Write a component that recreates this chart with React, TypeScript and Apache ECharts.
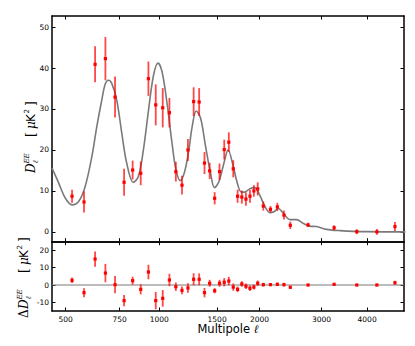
import React, { useEffect, useRef } from 'react';
import * as echarts from 'echarts';

// Multipole bin centres
const ells = [525, 575, 625, 675, 725, 775, 825, 875, 925, 975, 1025, 1075, 1125, 1175, 1225, 1275, 1325, 1375, 1425, 1475, 1525, 1575, 1625, 1675, 1725, 1775, 1825, 1875, 1925, 1975, 2050, 2150, 2250, 2350, 2450, 2750, 3250, 3750, 4250, 4750];
// D_ell^EE band powers [muK^2]
const dEE = [8.7, 7.3, 40.9, 42.3, 32.9, 12.1, 15.1, 14.3, 37.4, 31.0, 30.3, 29.1, 14.7, 11.4, 20.0, 31.8, 31.7, 16.8, 14.9, 8.2, 14.7, 20.1, 21.9, 15.4, 8.7, 8.5, 8.0, 8.7, 10.0, 10.5, 6.3, 5.5, 6.1, 4.1, 1.6, 1.7, 1.0, 0.05, 0.0, 1.3];
const dEEErr = [1.6, 2.6, 4.4, 5.3, 5.0, 3.3, 2.3, 2.9, 4.2, 5.0, 4.8, 3.6, 2.4, 2.3, 2.7, 3.5, 3.4, 2.7, 2.0, 1.5, 2.0, 2.4, 2.4, 2.1, 1.6, 1.6, 1.6, 1.6, 1.4, 1.6, 1.1, 0.8, 1.0, 1.1, 0.9, 0.5, 0.6, 0.6, 0.7, 1.1];
// residuals (data - model)
const resid = [2.7, -4.4, 15.0, 6.9, 0.2, -9.0, 2.5, -2.5, 7.5, -9.0, -7.7, 2.9, -1.0, -3.1, -1.7, 3.3, 3.3, -4.4, 1.0, -3.3, 1.0, 1.6, 2.3, -1.2, -2.5, 0.6, -0.7, -1.9, -1.2, 1.0, 0.2, 0.2, 0.4, 0.2, -1.3, 0.0, 0.4, 0.0, 0.0, 1.3];
// model curve
const theoryEll = [450, 474, 499, 525, 552, 580, 610, 633, 657, 673, 690, 707, 734, 762, 790, 829, 860, 892, 926, 960, 991, 1020, 1057, 1095, 1126, 1161, 1198, 1233, 1262, 1298, 1338, 1385, 1434, 1474, 1519, 1572, 1617, 1677, 1723, 1769, 1808, 1870, 1934, 2003, 2072, 2143, 2200, 2263, 2339, 2444, 2553, 2661, 2780, 2903, 3097, 3372, 3974, 5062];
const theoryD = [15.6, 11.9, 8.2, 6.6, 7.4, 11.1, 18.4, 25.7, 32.2, 35.9, 37.0, 36.3, 32.2, 24.1, 16.8, 12.1, 13.5, 20.0, 29.8, 38.3, 41.2, 39.1, 31.4, 21.7, 15.2, 12.5, 14.8, 20.0, 25.7, 29.5, 27.8, 20.9, 14.3, 10.8, 12.3, 16.8, 20.0, 15.8, 11.8, 9.7, 9.7, 10.5, 10.8, 8.9, 6.2, 4.7, 4.9, 5.7, 4.6, 3.0, 3.0, 2.1, 1.4, 1.3, 0.6, 0.3, 0.05, 0.0];

const xTicks = [500, 750, 1000, 1500, 2000, 3000, 4000];
const yTicksTop = [0, 10, 20, 30, 40, 50];
const yTicksBottom = [-10, 0, 10, 20];

const L_MIN = 450;
const L_MAX = 5020;
const tr = (l: number) => Math.pow(l, 0.1);

const FONT = 'DejaVu Sans';
const MATH = 'DejaVu Serif';

function makeX(gridIndex: number, position: 'top' | 'bottom', labels: boolean) {
  const tv = xTicks.map(tr);
  return {
    type: 'value', gridIndex, position,
    min: tr(L_MIN), max: tr(L_MAX),
    axisLine: { show: true, onZero: false, lineStyle: { color: '#000', width: 1.5 } },
    axisTick: { show: true, inside: true, length: 3.5, customValues: tv, lineStyle: { color: '#000', width: 1 } },
    axisLabel: {
      show: labels, customValues: tv, margin: 4, fontSize: 7.5, fontFamily: FONT, color: '#000',
      formatter: (v: number) => String(Math.round(Math.pow(v, 10) / 10) * 10),
    },
    splitLine: { show: false },
  };
}

function makeY(gridIndex: number, position: 'left' | 'right', labels: boolean, min: number, max: number, ticks: number[]) {
  return {
    type: 'value', gridIndex, position, min, max,
    axisLine: { show: true, onZero: false, lineStyle: { color: '#000', width: 1.5 } },
    axisTick: { show: true, inside: true, length: 3.5, customValues: ticks, lineStyle: { color: '#000', width: 1 } },
    axisLabel: { show: labels, customValues: ticks, margin: 3, fontSize: 7.5, fontFamily: FONT, color: '#000' },
    splitLine: { show: false },
  };
}

const errRender = (params: any, api: any) => {
  const x = api.value(0);
  const y = api.value(1);
  const e = api.value(2);
  const top = api.coord([x, y + e]);
  const bot = api.coord([x, y - e]);
  const c = api.coord([x, y]);
  return {
    type: 'group',
    children: [
      { type: 'line', shape: { x1: top[0], y1: top[1], x2: bot[0], y2: bot[1] }, style: { stroke: 'rgba(255,0,0,0.72)', lineWidth: 1.8 } },
      { type: 'rect', shape: { x: c[0] - 1.6, y: c[1] - 1.6, width: 3.2, height: 3.2 }, style: { fill: '#ff0000' } },
    ],
  };
};

function yTitle(x: number, y: number, delta: boolean) {
  const ch: any[] = [];
  let o = 0;
  if (delta) {
    ch.push({ type: 'text', x: 0, y: 0, style: { text: 'Δ', fontSize: 12, fontFamily: MATH, verticalAlign: 'middle', fill: '#000' } });
    o = 9;
  }
  ch.push({ type: 'text', x: o, y: 0, style: { text: 'D', fontSize: 12, fontStyle: 'italic', fontFamily: MATH, verticalAlign: 'middle', fill: '#000' } });
  ch.push({ type: 'text', x: o + 9.5, y: -4.5, style: { text: 'EE', fontSize: 7, fontStyle: 'italic', fontFamily: MATH, verticalAlign: 'middle', fill: '#000' } });
  ch.push({ type: 'text', x: o + 9.5, y: 4, style: { text: 'ℓ', fontSize: 7.5, fontStyle: 'italic', fontFamily: MATH, verticalAlign: 'middle', fill: '#000' } });
  ch.push({ type: 'text', x: o + 36, y: 0, style: { text: '[', fontSize: 12, fontFamily: MATH, verticalAlign: 'middle', fill: '#000' } });
  ch.push({ type: 'text', x: o + 44, y: 0, style: { text: 'μ', fontSize: 12, fontStyle: 'italic', fontFamily: MATH, verticalAlign: 'middle', fill: '#000' } });
  ch.push({ type: 'text', x: o + 51, y: 0, style: { text: 'K', fontSize: 12, fontFamily: FONT, verticalAlign: 'middle', fill: '#000' } });
  ch.push({ type: 'text', x: o + 59.5, y: -4.5, style: { text: '2', fontSize: 7, fontFamily: FONT, verticalAlign: 'middle', fill: '#000' } });
  ch.push({ type: 'text', x: o + 67, y: 0, style: { text: ']', fontSize: 12, fontFamily: MATH, verticalAlign: 'middle', fill: '#000' } });
  return { type: 'group', x, y, rotation: Math.PI / 2, children: ch };
}

export default function App() {
  const ref = useRef<HTMLDivElement>(null);
  useEffect(() => {
    if (!ref.current) return;
    const chart = echarts.init(ref.current, null, { renderer: 'svg' });
    const pts = ells.map((l, i) => [tr(l), dEE[i], dEEErr[i]]);
    const rpts = ells.map((l, i) => [tr(l), resid[i], dEEErr[i]]);
    chart.setOption({
      animation: false,
      backgroundColor: '#fff',
      textStyle: { fontFamily: FONT },
      grid: [
        { left: 52, top: 16, width: 352, height: 225.7 },
        { left: 52, top: 241.7, width: 352, height: 69.3 },
      ],
      xAxis: [
        makeX(0, 'bottom', false),
        makeX(0, 'top', false),
        makeX(1, 'bottom', true),
        makeX(1, 'top', false),
      ],
      yAxis: [
        makeY(0, 'left', true, -2.4, 52.7, yTicksTop),
        makeY(0, 'right', false, -2.4, 52.7, yTicksTop),
        makeY(1, 'left', true, -15, 25, yTicksBottom),
        makeY(1, 'right', false, -15, 25, yTicksBottom),
      ],
      series: [
        {
          type: 'line', xAxisIndex: 0, yAxisIndex: 0, showSymbol: false, smooth: 0.35,
          data: theoryEll.map((l, i) => [tr(l), theoryD[i]]),
          lineStyle: { color: '#7a7a7a', width: 1.6 }, clip: true, z: 2,
        },
        { type: 'custom', xAxisIndex: 0, yAxisIndex: 0, renderItem: errRender, data: pts, encode: { x: 0, y: 1 }, z: 3 },
        {
          type: 'line', xAxisIndex: 2, yAxisIndex: 2, showSymbol: false,
          data: [[tr(L_MIN), 0], [tr(L_MAX), 0]],
          lineStyle: { color: '#7a7a7a', width: 1.2 }, z: 2,
        },
        { type: 'custom', xAxisIndex: 2, yAxisIndex: 2, renderItem: errRender, data: rpts, encode: { x: 0, y: 1 }, z: 3 },
      ],
      graphic: [
        yTitle(31, 173, false),
        yTitle(24, 318, true),
        {
          type: 'text', x: 228, y: 329,
          style: {
            text: '{a|Multipole }{b|ℓ}', align: 'center', verticalAlign: 'middle',
            rich: {
              a: { fontSize: 11.5, fontFamily: FONT, fill: '#000' },
              b: { fontSize: 11.5, fontFamily: MATH, fontStyle: 'italic', fill: '#000' },
            },
          },
        },
      ],
    });
    return () => chart.dispose();
  }, []);
  return <div ref={ref} style={{ position: 'fixed', left: 0, top: 0, width: 415, height: 346, background: '#fff' }} />;
}
